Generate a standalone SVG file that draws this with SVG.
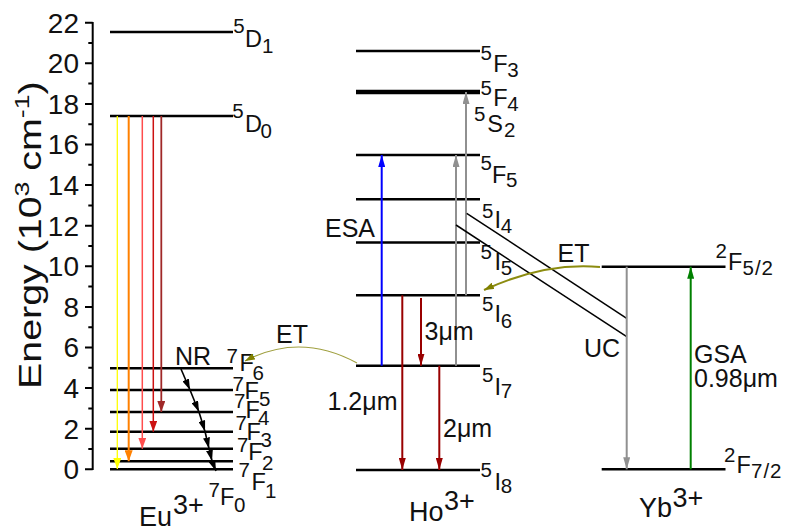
<svg xmlns="http://www.w3.org/2000/svg" width="789" height="527" viewBox="0 0 789 527">
<style>
text{font-family:"Liberation Sans",Arial,sans-serif;fill:#111}
.tick{font-size:28px;text-anchor:end}
.lab{font-size:25px}
.sp{font-size:27px}
.lv{font-size:23.5px}
.s{font-size:20.5px}
.lvl{stroke:#000;stroke-width:2.5;fill:none}
.ax{stroke:#000;stroke-width:2;fill:none}
</style>
<defs>
<marker id="mY" markerUnits="userSpaceOnUse" viewBox="0 0 11 8" refX="11" refY="4" markerWidth="11" markerHeight="8" orient="auto"><path d="M0,0L11,4L0,8z" fill="#ffff00"/></marker>
<marker id="mO" markerUnits="userSpaceOnUse" viewBox="0 0 11 8" refX="11" refY="4" markerWidth="11" markerHeight="8" orient="auto"><path d="M0,0L11,4L0,8z" fill="#ff8000"/></marker>
<marker id="mL" markerUnits="userSpaceOnUse" viewBox="0 0 11 8" refX="11" refY="4" markerWidth="11" markerHeight="8" orient="auto"><path d="M0,0L11,4L0,8z" fill="#ff4d4d"/></marker>
<marker id="mR" markerUnits="userSpaceOnUse" viewBox="0 0 11 8" refX="11" refY="4" markerWidth="11" markerHeight="8" orient="auto"><path d="M0,0L11,4L0,8z" fill="#cc1111"/></marker>
<marker id="mD" markerUnits="userSpaceOnUse" viewBox="0 0 11 8" refX="11" refY="4" markerWidth="11" markerHeight="8" orient="auto"><path d="M0,0L11,4L0,8z" fill="#a02828"/></marker>
<marker id="mH" markerUnits="userSpaceOnUse" viewBox="0 0 12 7" refX="12" refY="3.5" markerWidth="12" markerHeight="7" orient="auto"><path d="M0,0L12,3.5L0,7z" fill="#990000"/></marker>
<marker id="mB" markerUnits="userSpaceOnUse" viewBox="0 0 12 7" refX="12" refY="3.5" markerWidth="12" markerHeight="7" orient="auto"><path d="M0,0L12,3.5L0,7z" fill="#0000ff"/></marker>
<marker id="mG" markerUnits="userSpaceOnUse" viewBox="0 0 12 7" refX="12" refY="3.5" markerWidth="12" markerHeight="7" orient="auto"><path d="M0,0L12,3.5L0,7z" fill="#909090"/></marker>
<marker id="mN" markerUnits="userSpaceOnUse" viewBox="0 0 12 7" refX="12" refY="3.5" markerWidth="12" markerHeight="7" orient="auto"><path d="M0,0L12,3.5L0,7z" fill="#008000"/></marker>
<marker id="mK" markerUnits="userSpaceOnUse" viewBox="0 0 11 7" refX="11" refY="3.5" markerWidth="11" markerHeight="7" orient="auto"><path d="M0,0L11,3.5L0,7z" fill="#000"/></marker>
<marker id="mV" markerUnits="userSpaceOnUse" viewBox="0 0 10 7" refX="10" refY="3.5" markerWidth="10" markerHeight="7" orient="auto"><path d="M0,0L10,3.5L0,7z" fill="#808000"/></marker>
</defs>

<g id="axis">
<line class="ax" x1="92.7" y1="22" x2="92.7" y2="470"/>
<path class="ax" d="M85,22.7H92.7M85,63.3H92.7M85,103.9H92.7M85,144.5H92.7M85,185.1H92.7M85,225.7H92.7M85,266.3H92.7M85,306.9H92.7M85,347.5H92.7M85,388.1H92.7M85,428.7H92.7M85,469.3H92.7"/>
<path class="ax" d="M88.3,43H92.7M88.3,83.6H92.7M88.3,124.2H92.7M88.3,164.8H92.7M88.3,205.4H92.7M88.3,246H92.7M88.3,286.6H92.7M88.3,327.2H92.7M88.3,367.8H92.7M88.3,408.4H92.7M88.3,449H92.7"/>
<text class="tick" x="79" y="32.5">22</text>
<text class="tick" x="79" y="73.1">20</text>
<text class="tick" x="79" y="113.7">18</text>
<text class="tick" x="79" y="154.3">16</text>
<text class="tick" x="79" y="194.9">14</text>
<text class="tick" x="79" y="235.5">12</text>
<text class="tick" x="79" y="276.1">10</text>
<text class="tick" x="79" y="316.7">8</text>
<text class="tick" x="79" y="357.3">6</text>
<text class="tick" x="79" y="397.9">4</text>
<text class="tick" x="79" y="438.5">2</text>
<text class="tick" x="79" y="479.1">0</text>
<text transform="translate(41,389) rotate(-90) scale(1.27,1)" style="font-size:31px">Energy (10<tspan dy="-12" style="font-size:21px">3</tspan><tspan dy="12"> cm</tspan><tspan dy="-12" style="font-size:21px">-1</tspan><tspan dy="12">)</tspan></text>
</g>

<g id="eu">
<g id="eu-5D1"><line class="lvl" x1="110" y1="32" x2="233" y2="32"/><text class="lv"><tspan class="s" x="233.3" y="33.3">5</tspan><tspan x="245" y="46.7">D</tspan><tspan class="s" x="262" y="53.3">1</tspan></text></g>
<g id="eu-5D0"><line class="lvl" x1="110" y1="116" x2="233" y2="116"/><text class="lv"><tspan class="s" x="232.3" y="118.3">5</tspan><tspan x="245" y="131.7">D</tspan><tspan class="s" x="260.5" y="138.3">0</tspan></text></g>
<g id="eu-7F6"><line class="lvl" x1="110" y1="368.3" x2="233" y2="368.3"/><text class="lv"><tspan class="s" x="226.5" y="363.3">7</tspan><tspan x="239.5" y="371">F</tspan><tspan class="s" x="252.5" y="380">6</tspan></text></g>
<g id="eu-7F5"><line class="lvl" x1="110" y1="390" x2="233" y2="390"/><text class="lv"><tspan class="s" x="232.5" y="391">7</tspan><tspan x="244.5" y="399">F</tspan><tspan class="s" x="259" y="406">5</tspan></text></g>
<g id="eu-7F4"><line class="lvl" x1="110" y1="412" x2="233" y2="412"/><text class="lv"><tspan class="s" x="234" y="408.3">7</tspan><tspan x="245.5" y="418.3">F</tspan><tspan class="s" x="258" y="425">4</tspan></text></g>
<g id="eu-7F3"><line class="lvl" x1="110" y1="431.7" x2="233" y2="431.7"/><text class="lv"><tspan class="s" x="235.5" y="430">7</tspan><tspan x="246.5" y="440">F</tspan><tspan class="s" x="260.5" y="446.7">3</tspan></text></g>
<g id="eu-7F2"><line class="lvl" x1="110" y1="448.7" x2="233" y2="448.7"/><text class="lv"><tspan class="s" x="237" y="451.7">7</tspan><tspan x="248.3" y="460">F</tspan><tspan class="s" x="262" y="470">2</tspan></text></g>
<g id="eu-7F1"><line class="lvl" x1="110" y1="461.3" x2="233" y2="461.3"/><text class="lv"><tspan class="s" x="238.5" y="476.7">7</tspan><tspan x="251.5" y="490">F</tspan><tspan class="s" x="265" y="498.3">1</tspan></text></g>
<g id="eu-7F0"><line class="lvl" x1="110" y1="469.3" x2="233" y2="469.3"/><text class="lv"><tspan class="s" x="208.5" y="496.7">7</tspan><tspan x="220" y="505">F</tspan><tspan class="s" x="234" y="511.7">0</tspan></text></g>
<text class="sp" x="139" y="525.5">Eu<tspan x="173" y="513.5">3+</tspan></text>
</g>

<g id="ho">
<g id="ho-5F3"><line class="lvl" x1="356" y1="51" x2="480" y2="51"/><text class="lv"><tspan class="s" x="480.5" y="59.5">5</tspan><tspan x="493.3" y="72">F</tspan><tspan class="s" x="507.3" y="77.3">3</tspan></text></g>
<g id="ho-5F4"><line class="lvl" style="stroke-width:4.5" x1="356" y1="92" x2="480" y2="92"/><text class="lv"><tspan class="s" x="480.5" y="95">5</tspan><tspan x="493.3" y="105.5">F</tspan><tspan class="s" x="507.3" y="110.7">4</tspan><tspan class="s" x="474" y="121">5</tspan><tspan x="487.3" y="131.7">S</tspan><tspan class="s" x="504" y="136.7">2</tspan></text></g>
<g id="ho-5F5"><line class="lvl" x1="356" y1="155" x2="480" y2="155"/><text class="lv"><tspan class="s" x="480.5" y="170">5</tspan><tspan x="492" y="183.3">F</tspan><tspan class="s" x="506" y="186.7">5</tspan></text></g>
<g id="ho-5I4"><line class="lvl" x1="356" y1="199.3" x2="480" y2="199.3"/><text class="lv"><tspan class="s" x="482" y="218">5</tspan><tspan x="494.5" y="228.3">I</tspan><tspan class="s" x="500.7" y="233.3">4</tspan></text></g>
<g id="ho-5I5"><line class="lvl" x1="356" y1="242.5" x2="480" y2="242.5"/><text class="lv"><tspan class="s" x="480.5" y="258.5">5</tspan><tspan x="494.5" y="269.5">I</tspan><tspan class="s" x="500.7" y="274.5">5</tspan></text></g>
<g id="ho-5I6"><line class="lvl" x1="356" y1="295.3" x2="480" y2="295.3"/><text class="lv"><tspan class="s" x="482" y="310.5">5</tspan><tspan x="494.5" y="322">I</tspan><tspan class="s" x="500.7" y="327.5">6</tspan></text></g>
<g id="ho-5I7"><line class="lvl" x1="356" y1="365.7" x2="480" y2="365.7"/><text class="lv"><tspan class="s" x="482" y="381.7">5</tspan><tspan x="494.5" y="395">I</tspan><tspan class="s" x="500.7" y="398.3">7</tspan></text></g>
<g id="ho-5I8"><line class="lvl" x1="356" y1="470" x2="480" y2="470"/><text class="lv"><tspan class="s" x="480.5" y="476.7">5</tspan><tspan x="494.5" y="490">I</tspan><tspan class="s" x="500.7" y="493.3">8</tspan></text></g>
<text class="sp" x="409" y="521">Ho<tspan x="444" y="510">3+</tspan></text>
</g>

<g id="yb">
<g id="yb-2F52"><line class="lvl" x1="601.7" y1="266.7" x2="725.5" y2="266.7"/><text class="lv"><tspan class="s" x="715.5" y="258.3">2</tspan><tspan x="728" y="270">F</tspan><tspan class="s" x="742.5" y="275" style="letter-spacing:1px">5/2</tspan></text></g>
<g id="yb-2F72"><line class="lvl" x1="601.7" y1="469.3" x2="725.5" y2="469.3"/><text class="lv"><tspan class="s" x="724" y="461.7">2</tspan><tspan x="736.5" y="473.3">F</tspan><tspan class="s" x="751" y="478.3" style="letter-spacing:1px">7/2</tspan></text></g>
<text class="sp" x="639" y="516.5">Yb<tspan x="672.5" y="506.7">3+</tspan></text>
</g>

<g id="connectors" fill="none">
<line x1="117.3" y1="116" x2="117.3" y2="469" stroke="#ffff00" stroke-width="1.3" marker-end="url(#mY)"/>
<line x1="128.7" y1="116" x2="128.7" y2="461.3" stroke="#ff8000" stroke-width="2" marker-end="url(#mO)"/>
<line x1="142.3" y1="116" x2="142.3" y2="448.7" stroke="#ff4d4d" stroke-width="1.5" marker-end="url(#mL)"/>
<line x1="153.3" y1="116" x2="153.3" y2="431.7" stroke="#cc1111" stroke-width="1.5" marker-end="url(#mR)"/>
<line x1="161.3" y1="116" x2="161.3" y2="412" stroke="#a02828" stroke-width="1.8" marker-end="url(#mD)"/>
<g stroke="#000" stroke-width="1.6" marker-end="url(#mK)">
<line x1="181" y1="369" x2="190" y2="390"/>
<line x1="190" y1="390" x2="199" y2="412"/>
<line x1="199" y1="412" x2="205" y2="431.5"/>
<line x1="205" y1="431.5" x2="209" y2="448.5"/>
<line x1="209" y1="448.5" x2="212" y2="461"/>
<line x1="212" y1="461" x2="216" y2="471"/>
</g>
<path d="M357,363 Q300,332 245,361" stroke="#a0a040" stroke-width="1.2" marker-end="url(#mV)"/>
<line x1="381.7" y1="365.7" x2="381.7" y2="155" stroke="#0000ff" stroke-width="2" marker-end="url(#mB)"/>
<line x1="456" y1="365.7" x2="456" y2="155" stroke="#909090" stroke-width="2" marker-end="url(#mG)"/>
<line x1="466" y1="295.3" x2="466" y2="92" stroke="#909090" stroke-width="2" marker-end="url(#mG)"/>
<line x1="402.3" y1="295.3" x2="402.3" y2="470" stroke="#990000" stroke-width="2" marker-end="url(#mH)"/>
<line x1="421" y1="298" x2="421" y2="365.7" stroke="#990000" stroke-width="2" marker-end="url(#mH)"/>
<line x1="439.3" y1="365.7" x2="439.3" y2="470" stroke="#990000" stroke-width="2" marker-end="url(#mH)"/>
<line x1="466.7" y1="213.3" x2="626.7" y2="318.3" stroke="#000" stroke-width="1.5"/>
<line x1="456" y1="225" x2="626.7" y2="336.7" stroke="#000" stroke-width="1.5"/>
<line x1="626.7" y1="266.7" x2="626.7" y2="469.3" stroke="#909090" stroke-width="2" marker-end="url(#mG)"/>
<line x1="690.7" y1="469.3" x2="690.7" y2="266.7" stroke="#008000" stroke-width="2" marker-end="url(#mN)"/>
<path d="M600,267 Q545,262 484,290" stroke="#8c8c10" stroke-width="2" marker-end="url(#mV)"/>
</g>

<g id="labels">
<text class="lab" x="175" y="365">NR</text>
<text class="lab" x="276" y="343.3">ET</text>
<text class="lab" x="325" y="236.7">ESA</text>
<text class="lab" x="424.5" y="340">3μm</text>
<text class="lab" x="327.5" y="410">1.2μm</text>
<text class="lab" x="443" y="436.7">2μm</text>
<text class="lab" x="557.5" y="261.7">ET</text>
<text class="lab" x="584" y="356.7">UC</text>
<text class="lab" x="694" y="363.3">GSA</text>
<text class="lab" x="694" y="386.7">0.98μm</text>
</g>
</svg>
